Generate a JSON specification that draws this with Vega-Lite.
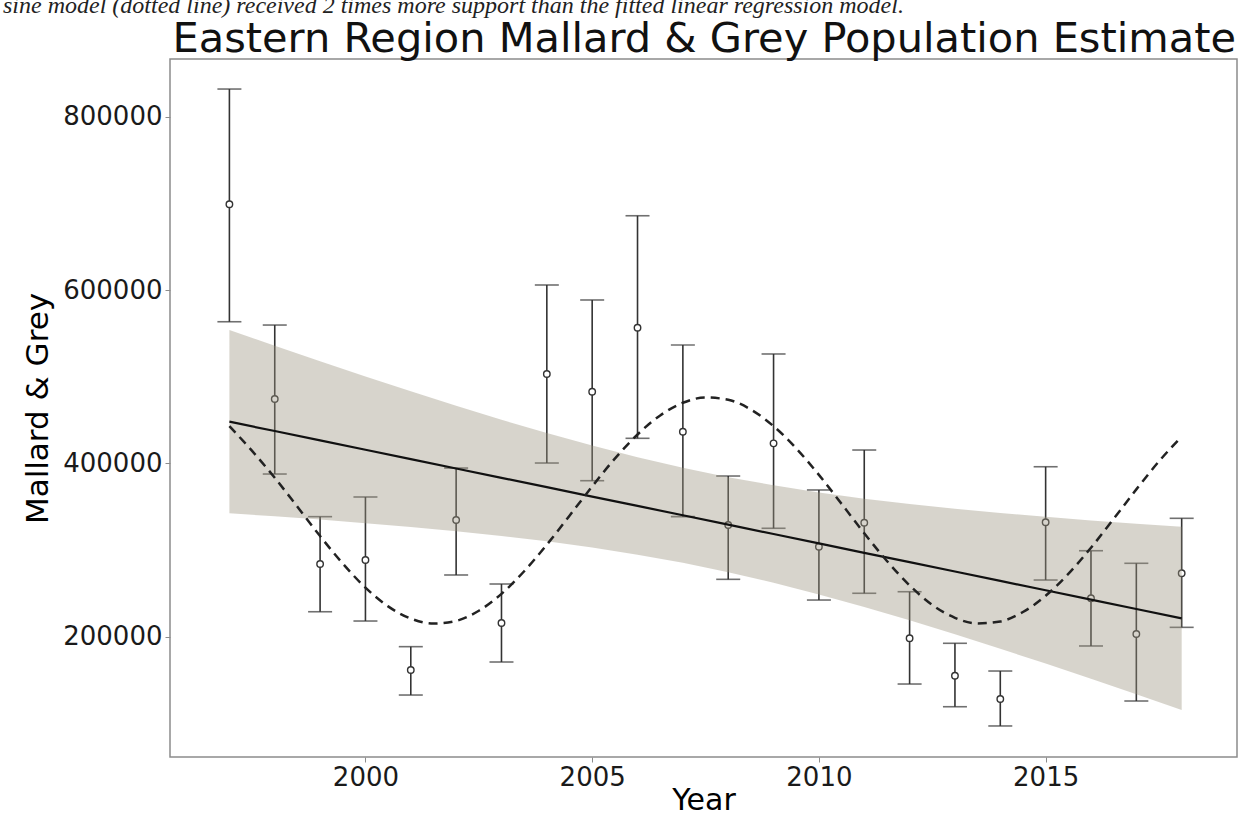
{
  "$schema": "https://vega.github.io/schema/vega-lite/v6.json",
  "autosize": "none",
  "width": 1067,
  "height": 698,
  "padding": {"left": 170, "top": 59, "right": 1, "bottom": 58},
  "background": "white",
  "title": {
    "text": "sine model (dotted line) received 2 times more support than the fitted linear regression model.",
    "anchor": "start",
    "frame": "group",
    "dx": -167,
    "dy": 25,
    "font": "Liberation Serif",
    "fontStyle": "italic",
    "fontSize": 24,
    "fontWeight": "normal",
    "color": "#222222",
    "baseline": "alphabetic",
    "offset": 6
  },
  "datasets": {
    "obs": [
      {"year": 1997, "est": 699000, "lo": 563400, "hi": 831900},
      {"year": 1998, "est": 474300, "lo": 387700, "hi": 559600},
      {"year": 1999, "est": 283900, "lo": 228800, "hi": 338500},
      {"year": 2000, "est": 288500, "lo": 218100, "hi": 361200},
      {"year": 2001, "est": 161600, "lo": 132700, "hi": 188500},
      {"year": 2002, "est": 334600, "lo": 271200, "hi": 394600},
      {"year": 2003, "est": 215800, "lo": 170800, "hi": 260800},
      {"year": 2004, "est": 503100, "lo": 400400, "hi": 605800},
      {"year": 2005, "est": 482700, "lo": 380000, "hi": 588500},
      {"year": 2006, "est": 556500, "lo": 428900, "hi": 685700},
      {"year": 2007, "est": 436500, "lo": 338500, "hi": 536600},
      {"year": 2008, "est": 328900, "lo": 266200, "hi": 385400},
      {"year": 2009, "est": 423100, "lo": 325100, "hi": 526200},
      {"year": 2010, "est": 303800, "lo": 242300, "hi": 369300},
      {"year": 2011, "est": 331500, "lo": 250100, "hi": 415400},
      {"year": 2012, "est": 198200, "lo": 145400, "hi": 251900},
      {"year": 2013, "est": 155000, "lo": 119200, "hi": 192400},
      {"year": 2014, "est": 128100, "lo": 97000, "hi": 160400},
      {"year": 2015, "est": 332000, "lo": 265400, "hi": 396100},
      {"year": 2016, "est": 244300, "lo": 189300, "hi": 299200},
      {"year": 2017, "est": 203100, "lo": 125800, "hi": 284700},
      {"year": 2018, "est": 273200, "lo": 210800, "hi": 336600}
    ],
    "fit": [
      {"year": 1997, "fit": 448100, "lo": 342400, "hi": 553800},
      {"year": 1998, "fit": 437300, "lo": 338900, "hi": 535700},
      {"year": 1999, "fit": 426500, "lo": 335100, "hi": 517900},
      {"year": 2000, "fit": 415700, "lo": 331000, "hi": 500300},
      {"year": 2001, "fit": 404900, "lo": 326600, "hi": 483200},
      {"year": 2002, "fit": 394100, "lo": 321700, "hi": 466500},
      {"year": 2003, "fit": 383300, "lo": 316300, "hi": 450300},
      {"year": 2004, "fit": 372500, "lo": 310100, "hi": 434900},
      {"year": 2005, "fit": 361700, "lo": 302900, "hi": 420500},
      {"year": 2006, "fit": 350900, "lo": 294700, "hi": 407100},
      {"year": 2007, "fit": 340100, "lo": 285300, "hi": 394900},
      {"year": 2008, "fit": 329300, "lo": 274500, "hi": 384100},
      {"year": 2009, "fit": 318500, "lo": 262300, "hi": 374700},
      {"year": 2010, "fit": 307600, "lo": 248800, "hi": 366400},
      {"year": 2011, "fit": 296800, "lo": 234400, "hi": 359200},
      {"year": 2012, "fit": 286000, "lo": 219000, "hi": 353000},
      {"year": 2013, "fit": 275200, "lo": 202800, "hi": 347600},
      {"year": 2014, "fit": 264400, "lo": 186100, "hi": 342700},
      {"year": 2015, "fit": 253600, "lo": 169000, "hi": 338300},
      {"year": 2016, "fit": 242800, "lo": 151400, "hi": 334200},
      {"year": 2017, "fit": 232000, "lo": 133600, "hi": 330400},
      {"year": 2018, "fit": 221200, "lo": 115500, "hi": 326900}
    ],
    "sine": [
      {"year": 1997, "value": 443000},
      {"year": 1997.5, "value": 414400},
      {"year": 1998, "value": 383400},
      {"year": 1998.5, "value": 349900},
      {"year": 1999, "value": 316100},
      {"year": 1999.5, "value": 284400},
      {"year": 2000, "value": 256600},
      {"year": 2000.5, "value": 235000},
      {"year": 2001, "value": 220900},
      {"year": 2001.5, "value": 215100},
      {"year": 2002, "value": 218200},
      {"year": 2002.5, "value": 229900},
      {"year": 2003, "value": 249400},
      {"year": 2003.5, "value": 275500},
      {"year": 2004, "value": 306200},
      {"year": 2004.5, "value": 339600},
      {"year": 2005, "value": 373400},
      {"year": 2005.5, "value": 405500},
      {"year": 2006, "value": 433300},
      {"year": 2006.5, "value": 455300},
      {"year": 2007, "value": 469900},
      {"year": 2007.5, "value": 476000},
      {"year": 2008, "value": 473400},
      {"year": 2008.5, "value": 462100},
      {"year": 2009, "value": 442900},
      {"year": 2009.5, "value": 417300},
      {"year": 2010, "value": 386700},
      {"year": 2010.5, "value": 353300},
      {"year": 2011, "value": 319400},
      {"year": 2011.5, "value": 287400},
      {"year": 2012, "value": 259200},
      {"year": 2012.5, "value": 236700},
      {"year": 2013, "value": 221800},
      {"year": 2013.5, "value": 215300},
      {"year": 2014, "value": 217600},
      {"year": 2014.5, "value": 228500},
      {"year": 2015, "value": 247200},
      {"year": 2015.5, "value": 272500},
      {"year": 2016, "value": 302700},
      {"year": 2016.5, "value": 336000},
      {"year": 2017, "value": 370000},
      {"year": 2017.5, "value": 402400},
      {"year": 2018, "value": 430900}
    ]
  },
  "resolve": {"axis": {"x": "independent"}},
  "layer": [
    {
      "data": {"name": "obs"},
      "mark": {"type": "rule", "color": "#333333", "strokeWidth": 1.6},
      "encoding": {
        "x": {
          "field": "year", "type": "quantitative", "title": "Year",
          "scale": {"domain": [1995.69, 2019.22], "nice": false, "zero": false},
          "axis": {"values": [2000, 2005, 2010, 2015], "format": "d", "orient": "bottom"}
        },
        "y": {
          "field": "lo", "type": "quantitative", "title": "Mallard & Grey",
          "scale": {"domain": [61200, 866560], "nice": false, "zero": false},
          "axis": {"values": [200000, 400000, 600000, 800000], "format": "d"}
        },
        "y2": {"field": "hi"}
      }
    },
    {
      "data": {"name": "obs"},
      "mark": {"type": "tick", "orient": "horizontal", "color": "#333333", "size": 24, "thickness": 1.6},
      "encoding": {
        "x": {"field": "year", "type": "quantitative", "axis": null, "scale": {"domain": [1995.69, 2019.22], "nice": false, "zero": false}},
        "y": {"field": "hi", "type": "quantitative", "title": "Mallard & Grey", "scale": {"domain": [61200, 866560], "nice": false, "zero": false}}
      }
    },
    {
      "data": {"name": "obs"},
      "mark": {"type": "tick", "orient": "horizontal", "color": "#333333", "size": 24, "thickness": 1.6},
      "encoding": {
        "x": {"field": "year", "type": "quantitative", "axis": null, "scale": {"domain": [1995.69, 2019.22], "nice": false, "zero": false}},
        "y": {"field": "lo", "type": "quantitative", "title": "Mallard & Grey", "scale": {"domain": [61200, 866560], "nice": false, "zero": false}}
      }
    },
    {
      "data": {"name": "obs"},
      "mark": {"type": "point", "shape": "circle", "filled": true, "fill": "white", "stroke": "#333333", "strokeWidth": 1.4, "size": 42, "opacity": 1},
      "encoding": {
        "x": {"field": "year", "type": "quantitative", "axis": null, "scale": {"domain": [1995.69, 2019.22], "nice": false, "zero": false}},
        "y": {"field": "est", "type": "quantitative", "title": "Mallard & Grey", "scale": {"domain": [61200, 866560], "nice": false, "zero": false}}
      }
    },
    {
      "data": {"name": "fit"},
      "mark": {"type": "area", "color": "#9c9480", "fillOpacity": 0.4},
      "encoding": {
        "x": {"field": "year", "type": "quantitative", "axis": null, "scale": {"domain": [1995.69, 2019.22], "nice": false, "zero": false}},
        "y": {"field": "lo", "type": "quantitative", "title": "Mallard & Grey", "scale": {"domain": [61200, 866560], "nice": false, "zero": false}},
        "y2": {"field": "hi"}
      }
    },
    {
      "data": {"name": "fit"},
      "mark": {"type": "line", "color": "#111111", "strokeWidth": 2.2},
      "encoding": {
        "x": {"field": "year", "type": "quantitative", "axis": null, "scale": {"domain": [1995.69, 2019.22], "nice": false, "zero": false}},
        "y": {"field": "fit", "type": "quantitative", "title": "Mallard & Grey", "scale": {"domain": [61200, 866560], "nice": false, "zero": false}}
      }
    },
    {
      "data": {"name": "sine"},
      "mark": {"type": "line", "color": "#222222", "strokeWidth": 2.5, "strokeDash": [9, 6], "interpolate": "monotone"},
      "encoding": {
        "x": {
          "field": "year", "type": "quantitative",
          "title": "Eastern Region Mallard & Grey Population Estimate",
          "scale": {"domain": [1995.69, 2019.22], "nice": false, "zero": false},
          "axis": {
            "orient": "top", "labels": false, "ticks": false, "domain": false, "grid": false,
            "titleFont": "DejaVu Sans", "titleFontWeight": "normal",
            "titleFontSize": 41.5, "titleColor": "#111111",
            "titleAnchor": "start", "titleAlign": "left", "titleAngle": 0,
            "titleX": 2, "titleY": -8, "titleBaseline": "alphabetic"
          }
        },
        "y": {"field": "value", "type": "quantitative", "title": "Mallard & Grey", "scale": {"domain": [61200, 866560], "nice": false, "zero": false}}
      }
    }
  ],
  "config": {
    "font": "DejaVu Sans",
    "view": {"stroke": "#8c8c8c", "strokeWidth": 1.5},
    "axis": {
      "grid": false,
      "domain": false,
      "tickColor": "#8c8c8c",
      "tickSize": 5,
      "tickWidth": 1,
      "labelFont": "DejaVu Sans",
      "labelFontSize": 26,
      "labelColor": "#1a1a1a",
      "labelPadding": 3,
      "titleFont": "DejaVu Sans",
      "titleFontWeight": "normal",
      "titleColor": "#000000"
    },
    "axisX": {"titleFontSize": 30, "titlePadding": -5, "labelPadding": 2, "labelFlush": false},
    "axisY": {"titleFontSize": 31, "titlePadding": 8, "labelFlush": false}
  }
}
